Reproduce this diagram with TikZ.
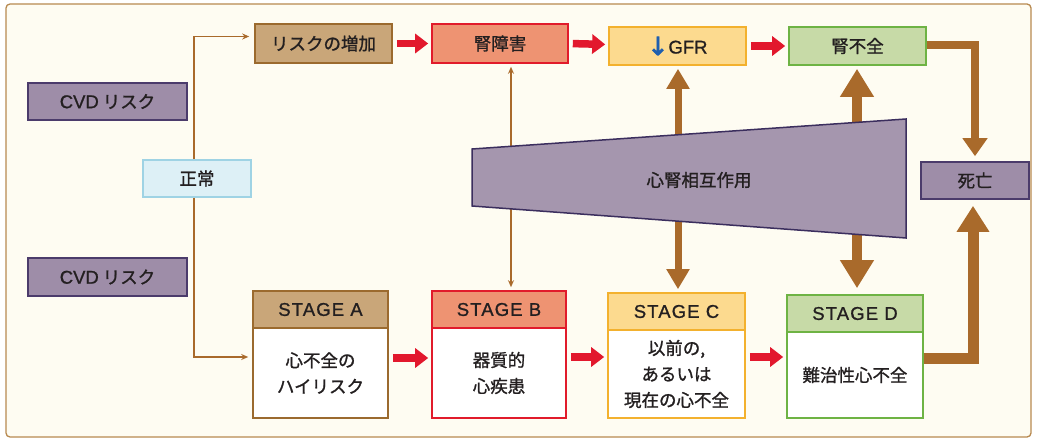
\documentclass[tikz,border=0pt]{standalone}
\usepackage{fontspec}
\setmainfont{Noto Sans CJK JP}[FakeBold=1.2]
\newfontfamily\latfont{Liberation Sans}[FakeBold=1.0]
\newfontfamily\symfont{DejaVu Sans}[FakeBold=3]
\usetikzlibrary{arrows.meta,calc}
\definecolor{bgcream}{HTML}{FEFCF2}
\definecolor{framebrown}{HTML}{B88A50}
\definecolor{purplefill}{HTML}{9E8DA8}
\definecolor{purpledraw}{HTML}{4B3B6B}
\definecolor{trapfill}{HTML}{A596AE}
\definecolor{trapdraw}{HTML}{3B2E5E}
\definecolor{cyanfill}{HTML}{DDF0F6}
\definecolor{cyandraw}{HTML}{9FD3E4}
\definecolor{tanfill}{HTML}{C9A679}
\definecolor{tandraw}{HTML}{9B6A2E}
\definecolor{salmonfill}{HTML}{EE9372}
\definecolor{reddraw}{HTML}{E11B2B}
\definecolor{yellowfill}{HTML}{FCDA8F}
\definecolor{yellowdraw}{HTML}{F3B12E}
\definecolor{greenfill}{HTML}{C7DAA7}
\definecolor{greendraw}{HTML}{6EB344}
\definecolor{arrowbrown}{HTML}{A96A2B}
\definecolor{arrowred}{HTML}{E2182D}
\definecolor{gfrblue}{HTML}{1F5FAF}
\definecolor{txt}{HTML}{231F20}
\newcommand{\lat}[1]{{\latfont\fontsize{18.5}{26}\selectfont #1}}
\newcommand{\stg}[1]{{\latfont\fontsize{18.5}{26}\selectfont\addfontfeature{LetterSpace=6}#1}}
\begin{document}
\begin{tikzpicture}[x=1pt,y=-1pt,
  every node/.style={font=\fontsize{17.5}{26}\selectfont, text=txt, inner sep=0pt, align=center},
  box/.style={draw, line width=1.6pt},
  redarrow/.style={draw=arrowred, line width=7.5pt, -{Triangle[length=13pt,width=19pt]}, shorten <=4pt, shorten >=3pt},
  thinarrow/.style={draw=arrowbrown, line width=1.5pt, -{Stealth[length=7pt,width=6pt]}},
  thinboth/.style={draw=arrowbrown, line width=1.5pt, {Stealth[length=7pt,width=6pt]}-{Stealth[length=7pt,width=6pt]}},
  thickA/.style={draw=arrowbrown, line width=7pt, -{Triangle[length=20pt,width=22pt]}},
  thickB/.style={draw=arrowbrown, line width=10pt, -{Triangle[length=28pt,width=32pt]}},
  cornerA/.style={draw=arrowbrown, line width=8pt, line join=miter, -{Triangle[length=18pt,width=24pt]}},
  cornerB/.style={draw=arrowbrown, line width=11pt, line join=miter, -{Triangle[length=26pt,width=31pt]}}
]
\useasboundingbox (0,0) rectangle (1037,441);
\fill[white] (0,0) rectangle (1037,441);
\draw[framebrown, fill=bgcream, rounded corners=4pt, line width=1.3pt] (6,4) rectangle (1031,437);

% left column
\node[box, fill=purplefill, draw=purpledraw, minimum width=159pt, minimum height=37pt] (cvd1) at (107.5,101.5) {\lat{CVD} リスク};
\node[box, fill=purplefill, draw=purpledraw, minimum width=159pt, minimum height=38pt] (cvd2) at (107.5,277) {\lat{CVD} リスク};
\node[box, fill=cyanfill, draw=cyandraw, minimum width=108pt, minimum height=37pt] (seijo) at (197,178.5) {正常};

% top row
\node[box, fill=tanfill, draw=tandraw, minimum width=137pt, minimum height=39pt] (risk) at (323.5,43.5) {リスクの増加};
\node[box, fill=salmonfill, draw=reddraw, minimum width=136pt, minimum height=39pt] (jinsho) at (500,43.5) {腎障害};
\node[box, fill=yellowfill, draw=yellowdraw, minimum width=137pt, minimum height=38pt] (gfr) at (677.5,46) {\raisebox{-1.5pt}{\textcolor{gfrblue}{\symfont\fontsize{25}{26}\selectfont ↓}}\lat{GFR}};
\node[box, fill=greenfill, draw=greendraw, minimum width=137pt, minimum height=38pt] (jinfuzen) at (857.5,46) {腎不全};
\node[box, fill=purplefill, draw=purpledraw, minimum width=108pt, minimum height=37pt] (shibo) at (975,180.5) {死亡};

% stages
\node[box, fill=tanfill, draw=tandraw, minimum width=135pt, minimum height=37pt] (stA) at (320.5,309.5) {\stg{STAGE A}};
\node[box, fill=white, draw=tandraw, minimum width=135pt, minimum height=90pt] (stAb) at (320.5,373) {心不全の\\ハイリスク};
\node[box, fill=salmonfill, draw=reddraw, minimum width=134pt, minimum height=37pt] (stB) at (499,309.5) {\stg{STAGE B}};
\node[box, fill=white, draw=reddraw, minimum width=134pt, minimum height=90pt] (stBb) at (499,373) {器質的\\心疾患};
\node[box, fill=yellowfill, draw=yellowdraw, minimum width=137pt, minimum height=37pt] (stC) at (676.5,311.5) {\stg{STAGE C}};
\node[box, fill=white, draw=yellowdraw, minimum width=137pt, minimum height=88pt] (stCb) at (676.5,374) {以前の,\\あるいは\\現在の心不全};
\node[box, fill=greenfill, draw=greendraw, minimum width=136pt, minimum height=37pt] (stD) at (855,313.5) {\stg{STAGE D}};
\node[box, fill=white, draw=greendraw, minimum width=136pt, minimum height=86pt] (stDb) at (855,375) {難治性心不全};

% thin connectors
\draw[thinarrow, shorten >=5pt] ([xshift=-3pt]seijo.north) |- ([yshift=7pt]risk.west);
\draw[thinarrow, shorten >=4pt] ([xshift=-3pt]seijo.south) |- ([yshift=16pt]stAb.west);
\draw[thinboth, shorten <=3pt, shorten >=3pt] ([xshift=11pt]jinsho.south) -- ([xshift=11pt]jinsho.south |- stB.north);

% red arrows
\draw[redarrow] (risk.east) -- (jinsho.west);
\draw[redarrow] (jinsho.east) -- ([yshift=-1pt]jinsho.east -| gfr.west);
\draw[redarrow] (gfr.east) -- (jinfuzen.west);
\draw[redarrow] ([yshift=15pt]stAb.east) -- ([yshift=15pt]stAb.east -| stBb.west);
\draw[redarrow] ([yshift=16pt]stBb.east) -- ([yshift=16pt]stBb.east -| stCb.west);
\draw[redarrow] ([yshift=17pt]stCb.east) -- ([yshift=17pt]stCb.east -| stDb.west);

% trapezoid corners and arrow roots
\coordinate (trTL) at (472,149);
\coordinate (trTR) at (906,119);
\coordinate (trBR) at (906,238);
\coordinate (trBL) at (472,206);
\coordinate (rootGfr) at (678,150);
\coordinate (rootC) at (678,205);
\coordinate (rootUp) at (857,140);
\coordinate (rootD) at (857,215);

% thick arrows
\draw[thickA, shorten >=3pt] (rootGfr) -- (rootGfr |- gfr.south);
\draw[thickA, shorten >=3pt] (rootC) -- (rootC |- stC.north);
\draw[thickB, shorten >=3pt] (rootUp) -- (rootUp |- jinfuzen.south);
\draw[thickB, shorten >=6pt] (rootD) -- (rootD |- stD.north);
\draw[cornerA, shorten >=5pt] ([yshift=1pt]jinfuzen.east) -| (shibo.north);
\draw[cornerB, shorten >=6pt] ([yshift=17pt]stDb.east) -| ([xshift=-2pt]shibo.south);

% trapezoid
\filldraw[fill=trapfill, draw=trapdraw, line width=1.5pt] (trTL) -- (trTR) -- (trBR) -- (trBL) -- cycle;
\node (interact) at (699,180) {心腎相互作用};
\end{tikzpicture}
\end{document}
